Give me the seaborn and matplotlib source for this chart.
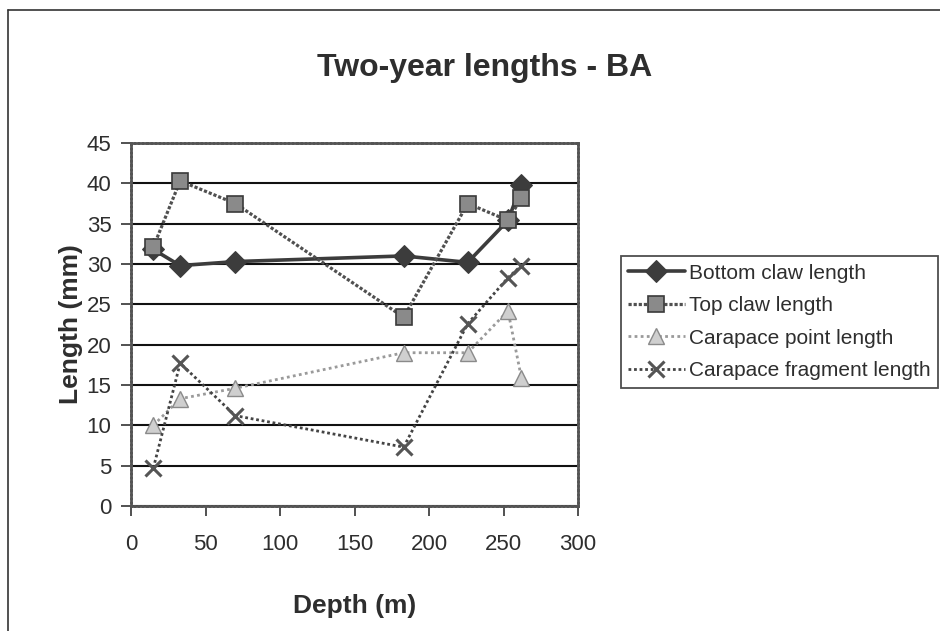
import matplotlib
matplotlib.use("Agg")
import matplotlib.pyplot as plt
import seaborn as sns
import pandas as pd
from matplotlib.lines import Line2D

depth = [15, 33, 70, 183, 226, 253, 262]
bottom_claw = [31.8, 29.8, 30.3, 31.0, 30.2, 35.4, 39.8]
top_claw = [32.1, 40.3, 37.5, 23.4, 37.5, 35.4, 38.2]
carapace_point = [10.0, 13.3, 14.6, 19.0, 19.0, 24.2, 15.9]
carapace_fragment = [4.7, 17.7, 11.2, 7.3, 22.6, 28.3, 29.8]
series_names = ["Bottom claw length", "Top claw length",
                "Carapace point length", "Carapace fragment length"]
x_ticks = [0, 50, 100, 150, 200, 250, 300]
y_ticks = [0, 5, 10, 15, 20, 25, 30, 35, 40, 45]

sns.set_theme(style="white")
plt.rcParams['font.family'] = ['Liberation Sans', 'DejaVu Sans']
txt = "#2e2e2e"

fig = plt.figure(figsize=(9.4, 6.31), dpi=100)
ax = fig.add_axes([131/940, 1-506/631, (578-131)/940, (506-143)/631])

styles = [
    dict(color="#3c3c3c", linestyle="-", linewidth=2.6, marker="D", markersize=11,
         markerfacecolor="#3c3c3c", markeredgecolor="#3c3c3c"),
    dict(color="#505050", linestyle=(0, (1, 0.6)), linewidth=2.3, marker="s", markersize=12,
         markerfacecolor="#8a8a8a", markeredgecolor="#3a3a3a", markeredgewidth=1.2),
    dict(color="#9a9a9a", linestyle=(0, (1, 1.2)), linewidth=2.0, marker="^", markersize=11,
         markerfacecolor="#cfcfcf", markeredgecolor="#8a8a8a", markeredgewidth=1.0),
    dict(color="#444444", linestyle=(0, (1, 1.0)), linewidth=2.0, marker="x", markersize=12,
         markeredgewidth=2.2, markeredgecolor="#555555"),
]
values = [bottom_claw, top_claw, carapace_point, carapace_fragment]

for name, vals, st in zip(series_names, values, styles):
    df = pd.DataFrame({"Depth": depth, "Length": vals})
    sns.lineplot(data=df, x="Depth", y="Length", ax=ax, sort=False,
                 label=name, **st)

ax.set_xlim(0, 300)
ax.set_ylim(0, 45)
ax.set_xticks(x_ticks)
ax.set_yticks(y_ticks)
ax.yaxis.grid(True, color="#111111", linewidth=1.5)
ax.xaxis.grid(False)
ax.set_axisbelow(True)
for sp in ax.spines.values():
    sp.set_visible(True)
    sp.set_color("#555555")
    sp.set_linestyle((0, (1, 0.5)))
    sp.set_linewidth(2.0)
ax.tick_params(axis="both", which="major", direction="out", length=7, width=1.2,
               color="#333333", labelsize=16, labelcolor=txt,
               bottom=True, left=True)
ax.tick_params(axis="x", pad=13)
ax.tick_params(axis="y", pad=7)
ax.set_xlabel("Depth (m)", fontsize=19, fontweight="bold", color=txt, labelpad=28)
ax.set_ylabel("Length (mm)", fontsize=19, fontweight="bold", color=txt, labelpad=3)

fig.text(485/940, 1-68/631, "Two-year lengths - BA", ha="center", va="center",
         fontsize=23, fontweight="bold", color=txt)

leg = ax.legend(loc="center left", bbox_to_anchor=(621/940, 1-322/631),
                bbox_transform=fig.transFigure, frameon=True, fancybox=False,
                fontsize=15, handlelength=2.7, handletextpad=0.2,
                borderpad=0.35, labelspacing=0.65, borderaxespad=0)
leg.get_frame().set_edgecolor("#222222")
leg.get_frame().set_linewidth(1.3)
for t in leg.get_texts():
    t.set_color(txt)

# outer chart border (left and top edges)
fig.add_artist(Line2D([8/940, 8/940], [0, 1-10/631], transform=fig.transFigure,
                      color="#333333", linewidth=1.2))
fig.add_artist(Line2D([8/940, 1], [1-10/631, 1-10/631], transform=fig.transFigure,
                      color="#333333", linewidth=1.2))

fig.savefig("out.png", dpi=100, facecolor="white")
